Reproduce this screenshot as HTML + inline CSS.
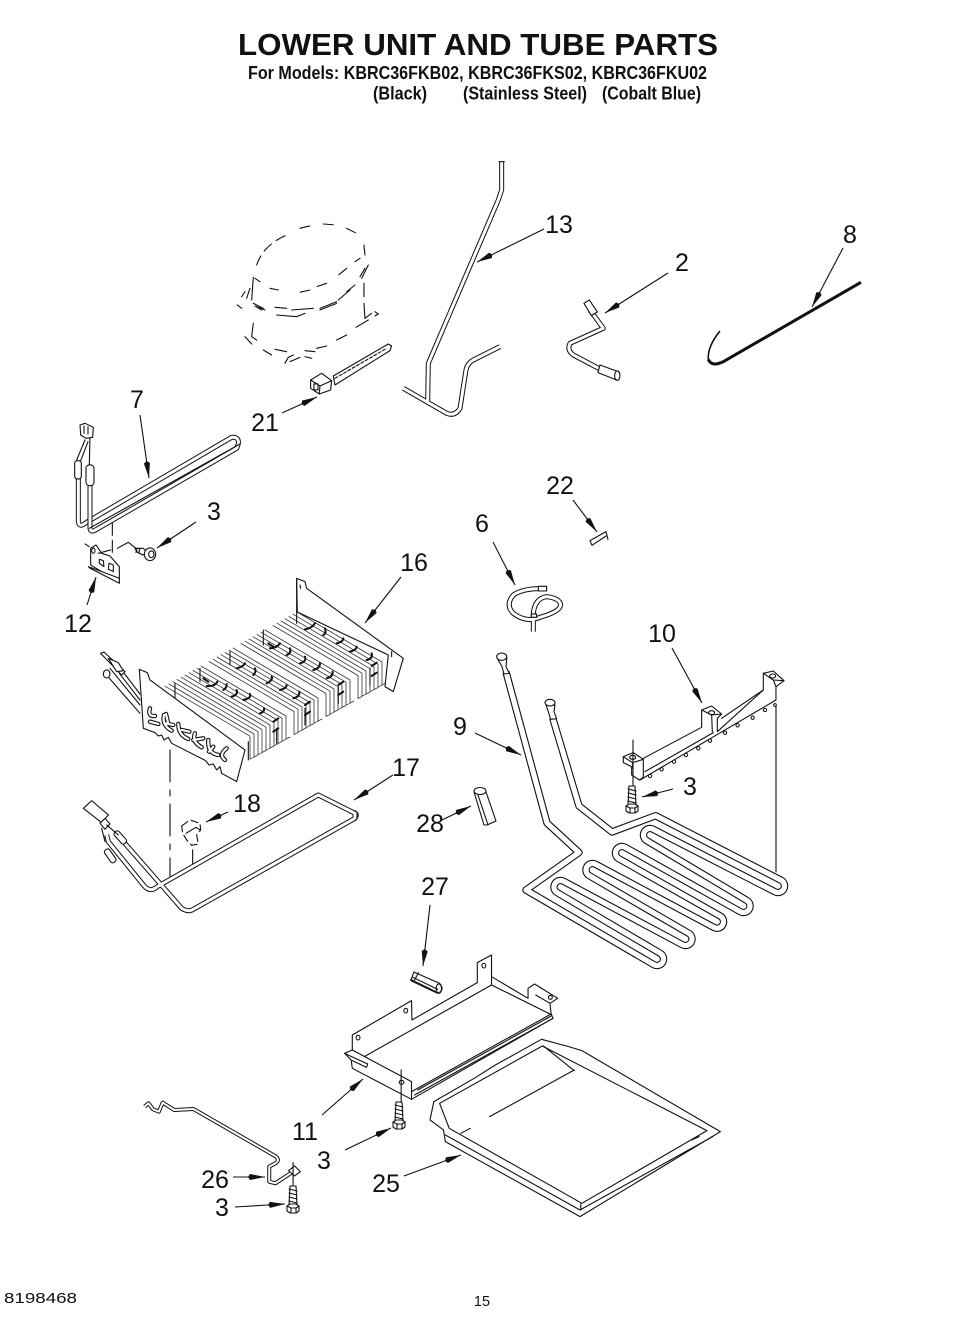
<!DOCTYPE html>
<html><head><meta charset="utf-8"><style>
html,body{margin:0;padding:0;background:#fff}
svg{display:block}
path,line,polyline,polygon,ellipse,circle,rect{vector-effect:non-scaling-stroke}
text{font-family:"Liberation Sans",sans-serif;fill:#111}
.n{font-size:25px;text-anchor:middle}
.b{font-weight:bold}
.l{fill:none;stroke:#111;stroke-width:1.1;stroke-linecap:round;stroke-linejoin:round}
.w{fill:#fff;stroke:#111;stroke-width:1.1;stroke-linejoin:round}
.d{fill:none;stroke:#222;stroke-width:1.1;stroke-dasharray:13 6 3 6}
.tb{fill:none;stroke:#111;stroke-width:5;stroke-linejoin:round;stroke-linecap:butt}
.tw{fill:none;stroke:#fff;stroke-width:3;stroke-linejoin:round;stroke-linecap:butt}
.cb{fill:none;stroke:#111;stroke-width:7.4;stroke-linejoin:round;stroke-linecap:butt}
.cw{fill:none;stroke:#fff;stroke-width:5.2;stroke-linejoin:round;stroke-linecap:butt}
.a{stroke:#111;stroke-width:1.1;fill:none;marker-end:url(#ah)}
.k{fill:none;stroke:#111;stroke-width:2;stroke-linecap:round}
</style></head><body>
<svg width="965" height="1333" viewBox="0 0 965 1333" xmlns="http://www.w3.org/2000/svg">
<defs>
<marker id="ah" markerUnits="userSpaceOnUse" markerWidth="18" markerHeight="8" refX="17" refY="4" orient="auto"><path d="M0,4 L2,1 L17,4 L2,7 Z" fill="#111"/></marker>
<path id="fin" d="M0,0 L85,50 L85,73 L89,71"/>
<g id="screw"><path class="w" d="M-3,-20 L3,-20 L4,-1 L-4,-1 Z"/><path class="l" d="M-4,-17 L4,-15 M-4,-13 L4,-11 M-4,-9 L4,-7 M-4,-5 L4,-3"/><path class="w" d="M-6,0 L-3,-2 L3,-2 L6,0 L6,5 L3,7 L-3,7 L-6,5 Z"/><path class="l" d="M-6,0 L-2,2 L3,2 L6,0 M-2,2 L-2,7 M3,2 L3,7"/></g>
<path id="t7a" d="M55,745 L55,905 Q58,925 78,908 L515,652 Q538,650 535,672"/>
<path id="t7b" d="M90,795 L90,925 Q92,940 110,928 L530,685 L535,672"/>
<path id="t17a" d="M140,885 L145,905 L250,1035 Q270,1060 292,1040 L775,765 L885,820"/>
<path id="t17b" d="M190,905 L365,1105 Q385,1118 400,1108 L885,835 L885,820"/>
<path id="t13a" d="M335,35 L335,120 L325,150 L115,640 L113,755"/>
<path id="t13b" d="M40,715 L170,790 Q195,800 210,775 L228,660 Q232,640 250,630 L330,590"/>
<path id="t2" d="M600,480 L640,535 L540,580 Q530,600 550,615 L635,660"/>
<path id="t26" d="M38,500 L48,490 L60,508 L75,515 L85,488 L115,510 L165,507 L380,650 Q390,662 378,670 L362,680 L362,725 L378,730 L428,692"/>
<path id="coil" d="M552.7,718 L579,806 L612,832 L655.6,815.7 L781.2,880.3 A6.5,6.5 0 0 1 774.8,891.7 L653.2,829.3 A6.5,6.5 0 0 0 646.8,840.7 L746.7,900.3 A6.5,6.5 0 0 1 740.3,911.7 L625.2,847.3 A6.5,6.5 0 0 0 618.8,858.7 L720.2,916 A6.5,6.5 0 0 1 713.8,927.4 L595.7,864.3 A6.5,6.5 0 0 0 589.3,875.7 L688.7,933.3 A6.5,6.5 0 0 1 682.3,944.7 L563.7,881.3 A6.5,6.5 0 0 0 557.3,892.7 L660.2,953.3 A6.5,6.5 0 0 1 653.8,964.7 L526,890 L579,852.5 L547,823 L506,672"/>
</defs>
<rect width="965" height="1333" fill="#fff"/>

<!-- Heading -->
<text class="b" x="238" y="55" font-size="31" textLength="480" lengthAdjust="spacingAndGlyphs">LOWER UNIT AND TUBE PARTS</text>
<text class="b" x="248" y="79" font-size="18.5" textLength="459" lengthAdjust="spacingAndGlyphs">For Models: KBRC36FKB02, KBRC36FKS02, KBRC36FKU02</text>
<text class="b" x="373" y="99.5" font-size="18.5" textLength="54" lengthAdjust="spacingAndGlyphs">(Black)</text>
<text class="b" x="463" y="99.5" font-size="18.5" textLength="124" lengthAdjust="spacingAndGlyphs">(Stainless Steel)</text>
<text class="b" x="602" y="99.5" font-size="18.5" textLength="99" lengthAdjust="spacingAndGlyphs">(Cobalt Blue)</text>

<!-- Compressor and part 21 -->
<g transform="translate(60,220) scale(.3333)">
<path class="l" stroke-dasharray="10 6" d="M590,135 Q610,75 680,45 M720,25 L760,15 M790,12 L830,15 M860,25 L900,45 M912,75 L915,105 L885,125 M860,145 L830,170 M800,190 L770,200 M750,210 L705,220 M655,210 L630,205 M600,185 L585,175"/>
<path class="l" d="M925,135 L905,175 M915,145 L900,170 M885,195 L860,215 M870,210 L835,240 M830,245 L780,265 M760,265 L695,270 M645,262 L680,265 M590,260 L615,270 M650,285 L710,290 L735,280 M780,270 L830,250"/>
<path class="l" d="M555,215 L545,230 M570,205 L560,235 M580,172 L575,240 M532,255 L545,265 M580,250 L610,265 M585,258 L605,270 M912,190 L912,230 M912,250 L915,295 L935,280 M945,275 L955,282 L945,288 M925,300 L888,322"/>
<path class="l" d="M580,310 L575,350 L590,360 M555,350 L575,372 M610,390 L635,405 M645,388 L680,395 M735,392 L765,395 M770,385 L800,378 M830,360 L860,345 M675,430 L685,412 L700,405 M690,425 L720,412 M735,410 L755,415"/>
<path class="w" d="M820,468 L985,372 L995,378 L990,392 L825,495 Z"/>
<path class="l" stroke-dasharray="3 2" d="M825,475 L980,385"/>
<path class="w" stroke-width="1.6" d="M752,480 L785,460 L815,482 L812,510 L778,522 L752,505 Z"/>
<path class="l" d="M752,480 L780,498 L815,482 M780,498 L778,522"/><rect class="w" x="762" y="492" width="12" height="18"/>
</g>

<!-- Part 7, 12 and screw -->
<g transform="translate(60,220) scale(.3333)">
<use href="#t7a" class="tb"/><use href="#t7a" class="tw"/>
<use href="#t7b" class="tb"/><use href="#t7b" class="tw"/>
<path class="l" d="M88,925 L540,672"/>
<rect class="w" x="44" y="722" width="20" height="55" rx="8"/>
<rect class="w" x="78" y="735" width="24" height="62" rx="10"/>
<path class="l" stroke-width="1.6" d="M50,720 L75,660 M88,735 L90,650 M62,722 L84,665"/>
<path class="w" stroke-width="1.8" d="M60,615 L75,610 L100,622 L98,652 L78,655 L62,645 Z"/>
<path class="l" d="M72,618 L72,640 M84,620 L84,642"/>
<line class="l" x1="157" y1="910" x2="157" y2="1010" stroke-dasharray="12 5"/>
<path class="w" stroke-width="1.5" d="M92,1035 L92,985 L108,975 L125,1000 L150,1008 L178,1040 L178,1088 Z"/>
<path class="w" d="M85,1040 L178,1075 L178,1090 L90,1045 Z"/>
<path class="w" d="M118,1030 L118,1018 L130,1022 L132,1040 Z"/><path class="w" d="M145,1048 L147,1030 L160,1035 L160,1055 Z"/>
<ellipse class="l" cx="100" cy="992" rx="5" ry="8"/>
<path class="l" d="M75,972 L88,980 M115,1000 L152,990 M172,985 L205,967 L228,985"/>
<path class="w" stroke-width="1.5" d="M225,985 L250,985 L262,998 L248,1005 L230,995 Z"/>
<path class="l" d="M232,985 L228,998 M240,985 L236,1000"/>
<ellipse class="w" cx="270" cy="1003" rx="17" ry="19" stroke-width="1.8"/><ellipse class="l" cx="274" cy="1003" rx="8" ry="10"/>
</g>

<!-- Tube 13, part 2, wire 8 -->
<g transform="translate(390,150) scale(.3333)">
<use href="#t13a" class="tb"/><use href="#t13b" class="tb"/>
<use href="#t13b" class="tw"/><use href="#t13a" class="tw"/>
<path class="l" d="M327,35 L343,35"/>
<use href="#t2" class="tb"/><use href="#t2" class="tw"/>
<path class="w" stroke-width="1.3" d="M582,460 L598,450 L622,486 L604,497 Z"/>
<path class="w" stroke-width="1.3" d="M630,645 L688,666 L680,690 L624,668 Z"/>
<ellipse class="w" cx="682" cy="677" rx="8" ry="14" stroke-width="1.3"/>
<path fill="none" stroke="#111" stroke-width="3" stroke-linecap="butt" d="M1413,397 L1000,635 Q965,652 955,628"/>
<path fill="none" stroke="#111" stroke-width="1.6" d="M955,628 Q952,590 990,543"/>
</g>

<!-- Evaporator 16 -->
<g transform="translate(60,540) scale(.3333)">
<path class="w" stroke-width="1.2" d="M710,115 L735,125 L740,145 L1030,355 L1000,455 L975,440 L985,345 L710,215 Z"/>
<path class="l" d="M710,120 L712,215 M720,135 L722,145 M995,335 L995,350"/>
</g>
<g class="l" style="stroke-width:.8;stroke:#333">
<use href="#fin" x="297" y="612"/><use href="#fin" x="293" y="614.2"/><use href="#fin" x="289" y="616.5"/><use href="#fin" x="285" y="618.7"/><use href="#fin" x="281" y="621"/><use href="#fin" x="277" y="623.2"/><use href="#fin" x="273" y="625.5"/><use href="#fin" x="265" y="630"/><use href="#fin" x="261" y="632.2"/><use href="#fin" x="257" y="634.5"/><use href="#fin" x="253" y="636.7"/><use href="#fin" x="249" y="639"/><use href="#fin" x="245" y="641.2"/><use href="#fin" x="241" y="643.5"/><use href="#fin" x="233" y="648"/><use href="#fin" x="229" y="650.2"/><use href="#fin" x="225" y="652.5"/><use href="#fin" x="221" y="654.7"/><use href="#fin" x="217" y="657"/><use href="#fin" x="213" y="659.2"/><use href="#fin" x="209" y="661.5"/><use href="#fin" x="201" y="666"/><use href="#fin" x="197" y="668.2"/><use href="#fin" x="193" y="670.5"/><use href="#fin" x="189" y="672.7"/><use href="#fin" x="185" y="675"/><use href="#fin" x="181" y="677.2"/><use href="#fin" x="177" y="679.5"/><use href="#fin" x="173" y="681.7"/><use href="#fin" x="169" y="684"/><use href="#fin" x="165" y="686.2"/>
</g>
<g transform="translate(60,540) scale(.3333)">
<path class="l" d="M345,430 L345,475 M420,385 L420,425 M510,335 L510,375 M610,270 L610,315 M710,215 L710,250"/>
<path class="l" d="M565,660 L565,605 M650,610 L650,565 M735,555 L735,505 M835,490 L835,440 M930,435 L930,385"/>
<g class="k">
<path d="M430,415 L445,425 M440,438 Q465,440 472,425 M490,450 Q500,445 500,432 M515,470 Q535,465 530,450 M550,480 Q575,475 570,462 M600,520 Q615,515 612,505 M640,545 L655,535 M640,575 L655,565"/>
<path d="M530,385 Q550,380 555,370 M580,405 Q590,395 585,385 M620,430 Q640,420 635,410 M660,450 Q680,445 680,435 M700,475 Q720,470 718,455 M735,495 L750,485 M735,525 L750,515"/>
<path d="M625,310 L640,320 M630,325 Q650,325 660,310 M680,345 Q695,340 690,325 M720,370 Q740,365 735,350 M760,390 Q780,385 780,370 M800,415 Q820,410 818,395 M835,435 L850,425 M835,465 L850,455"/>
<path d="M735,268 Q755,265 765,250 M790,285 Q800,280 795,265 M830,310 Q850,305 850,295 M870,335 Q890,330 890,320 M920,360 Q940,355 935,340 M935,378 L950,368 M935,408 L950,398"/>
</g>
<path class="l" stroke-width="1.6" d="M185,390 L240,462 M178,400 L240,480 M150,385 L240,495 M135,400 L240,520"/>
<path class="w" d="M122,340 L132,336 L195,395 L185,405 Z"/><path class="w" d="M145,355 L175,368 L190,392 L170,395 Z"/>
<ellipse class="w" cx="140" cy="402" rx="10" ry="12"/>
<path class="w" stroke-width="1.3" d="M238,388 L262,398 L270,420 L555,630 L530,725 L485,700 L480,680 L470,690 L460,672 L447,675 L437,662 L335,610 L325,592 L312,600 L305,585 L295,588 L285,578 L250,565 Z"/>
<path fill="none" stroke="#111" stroke-width="4.4" stroke-linecap="round" d="M270,505 Q262,530 285,528 M270,545 L295,552 M312,525 Q305,555 335,572 M318,522 L325,552 M315,550 L340,555 M355,552 Q355,585 385,597 M365,570 L388,575 M405,580 Q395,605 425,622 M400,600 L430,595 M445,600 Q442,640 475,645 M447,635 L460,620 M500,625 Q475,645 495,660"/>
<path fill="none" stroke="#fff" stroke-width="2.2" stroke-linecap="round" d="M270,505 Q262,530 285,528 M270,545 L295,552 M312,525 Q305,555 335,572 M318,522 L325,552 M315,550 L340,555 M355,552 Q355,585 385,597 M365,570 L388,575 M405,580 Q395,605 425,622 M400,600 L430,595 M445,600 Q442,640 475,645 M447,635 L460,620 M500,625 Q475,645 495,660"/>
<line class="l" x1="330" y1="630" x2="330" y2="1012" stroke-dasharray="32 8 6 8"/>
<!-- tube 17 -->
<use href="#t17a" class="tb"/><use href="#t17b" class="tb"/>
<use href="#t17a" class="tw"/><use href="#t17b" class="tw"/>
<path class="l" d="M885,812 Q905,825 885,842"/>
<path class="w" stroke-width="1.6" d="M70,805 L95,782 L145,825 L125,848 Z"/>
<path class="w" d="M120,850 L135,835 L150,852 L135,868 Z"/>
<rect class="w" x="170" y="870" width="18" height="45" rx="7" transform="rotate(-42 180 890)"/>
<rect class="w" x="140" y="925" width="18" height="45" rx="7" transform="rotate(-35 150 945)"/>
<path class="l" d="M125,865 L135,905 M140,855 L175,885"/>
<path class="w" stroke-width="1.2" stroke-dasharray="8 3" d="M365,858 L390,840 L420,850 L422,870 L410,885 L415,912 L395,916 L380,900 L368,880 Z"/>
<path class="l" d="M378,880 L408,862 L420,870 M398,930 L398,972"/>
</g>

<!-- Part 6 and 22 -->
<g transform="translate(470,470) scale(.3333)">
<path fill="none" stroke="#111" stroke-width="5" d="M215,356 Q160,355 130,375 Q105,405 130,430 Q170,460 210,442 Q270,425 272,405 Q270,385 230,380 Q195,385 190,430 L190,485"/>
<path fill="none" stroke="#fff" stroke-width="3" d="M215,356 Q160,355 130,375 Q105,405 130,430 Q170,460 210,442 Q270,425 272,405 Q270,385 230,380 Q195,385 190,430 L190,485"/>
<rect class="w" x="205" y="349" width="25" height="14"/>
<rect class="w" x="184" y="432" width="16" height="10"/>
<path class="l" d="M360,212 L408,185 L414,208 M360,212 L366,226 L408,198"/>
</g>

<!-- Part 10 and 9 -->
<line class="l" x1="776" y1="705" x2="776" y2="872" stroke-width="1.4"/>
<use href="#coil" class="cb"/><use href="#coil" class="cw"/>
<g transform="translate(480,640) scale(.3333)">
<path class="w" stroke-width="1.4" d="M490,355 L665,262 L665,210 L695,198 L725,222 L712,235 L712,275 L850,150 L850,100 L880,93 L912,122 L888,140 L888,180 L480,420 L478,390 Z"/>
<path class="l" d="M495,395 L700,278 M725,235 L850,150 M665,210 L695,225 L725,222 M695,225 L697,275 M850,100 L880,120 L912,122 M880,120 L888,140"/>
<ellipse class="l" cx="695" cy="218" rx="9" ry="6"/><ellipse class="l" cx="878" cy="108" rx="9" ry="6"/>
<path class="w" stroke-width="1.4" d="M430,350 L460,338 L490,358 L490,412 L478,420 L455,405 L455,380 L430,368 Z"/>
<path class="l" d="M430,350 L458,368 L490,358 M458,368 L458,385"/><ellipse class="l" cx="458" cy="352" rx="9" ry="6"/>
<g fill="#fff" stroke="#111" stroke-width="1"><circle cx="510" cy="408" r="5"/><circle cx="545" cy="388" r="5"/><circle cx="582" cy="365" r="5"/><circle cx="618" cy="345" r="5"/><circle cx="655" cy="325" r="5"/><circle cx="690" cy="302" r="5"/><circle cx="735" cy="278" r="5"/><circle cx="773" cy="256" r="5"/><circle cx="818" cy="233" r="5"/><circle cx="855" cy="210" r="5"/><circle cx="885" cy="195" r="4"/></g>
<line class="l" x1="459" y1="300" x2="459" y2="460"/>
<!-- caps -->
<path class="w" stroke-width="1.3" d="M52,55 Q55,40 68,40 Q82,42 80,58 L78,80 L88,100 L72,102 L66,80 Z"/>
<ellipse class="w" cx="65" cy="50" rx="15" ry="11" stroke-width="1.3"/>
<path class="w" stroke-width="1.3" d="M198,195 L225,195 L222,215 L230,236 L212,238 L205,215 Z"/>
<ellipse class="w" cx="210" cy="188" rx="15" ry="10" stroke-width="1.3"/>
</g>
<use href="#screw" x="632" y="806"/>

<!-- Part 28 -->
<path class="w" stroke-width="1.4" d="M474,792 L485,789 L496,821 L487,825 L484,825 Z"/>
<ellipse class="w" cx="480" cy="791" rx="6" ry="3.5" stroke-width="1.4"/>
<path class="l" d="M478,795 L488,825"/>

<!-- Bottom pan, tray, heater -->
<g transform="translate(130,940) scale(.3846,.3333)">
<!-- 27 -->
<path class="w" stroke-width="1.4" d="M738,96 L805,130 Q820,150 800,160 L730,122 Z"/>
<path class="l" d="M730,118 L795,155 M736,112 L800,148 M750,98 L740,120"/>
<ellipse class="l" cx="803" cy="146" rx="7" ry="14"/>
<!-- 11 -->
<path class="w" stroke-width="1.3" d="M578,285 L732,182 L733,240 L903,128 L903,68 L940,45 L940,110 L1035,175 L1035,145 L1052,132 L1112,175 L1092,190 L1095,222 L1100,235 L732,478 L578,385 L575,360 L558,340 L578,330 Z"/>
<path class="l" d="M612,348 L940,135 L1092,222 M940,110 L940,135 M578,330 L732,425 L732,478 M558,340 L618,372 L615,382 L578,362 M732,455 L1095,222 M740,465 L1100,235 M748,450 L1095,228"/>
<path class="l" d="M1055,165 L1092,190"/><ellipse class="l" cx="1093" cy="172" rx="5" ry="6"/>
<ellipse class="l" cx="593" cy="293" rx="5" ry="7"/><ellipse class="l" cx="717" cy="212" rx="5" ry="7"/><ellipse class="l" cx="920" cy="77" rx="5" ry="7"/><ellipse class="l" cx="706" cy="427" rx="6" ry="6"/>
<line class="l" x1="705" y1="390" x2="705" y2="510"/>
<!-- 25 -->
<path class="l" stroke-width="1.3" d="M1070,298 L1135,318 L1175,332 L1535,575 L1170,830 L820,605 L815,570 L780,540 L790,485 L895,415 L950,375 Z"/>
<path class="l" d="M805,490 L1072,318 L1500,572 L1175,790 L830,565 Z"/>
<path class="l" d="M820,585 L1170,810 L1515,590 M1075,318 L1155,392 M935,530 L1155,390 M860,580 L885,565 M1172,792 L1172,810 M1460,600 L1480,590"/>
<!-- 26 -->
<use href="#t26" class="tb" style="stroke-width:4"/><use href="#t26" class="tw" style="stroke-width:2"/>
<path class="w" d="M412,692 L428,678 L443,695 L428,708 Z"/>
<line class="l" x1="424" y1="668" x2="424" y2="755"/>
</g>
<use href="#screw" x="399" y="1122"/>
<use href="#screw" x="293" y="1206"/>

<!-- Arrows -->
<line class="a" x1="544" y1="229" x2="477" y2="262"/>
<line class="a" x1="668" y1="273" x2="605" y2="313"/>
<line class="a" x1="843" y1="248" x2="812" y2="307"/>
<line class="a" x1="140" y1="415" x2="149" y2="478"/>
<line class="a" x1="282" y1="413" x2="317" y2="397"/>
<line class="a" x1="196" y1="522" x2="157" y2="548"/>
<line class="a" x1="87" y1="605" x2="96" y2="577"/>
<line class="a" x1="401" y1="577" x2="365" y2="623"/>
<line class="a" x1="393" y1="775" x2="354" y2="800"/>
<line class="a" x1="228" y1="812" x2="206" y2="822"/>
<line class="a" x1="475" y1="733" x2="521" y2="755"/>
<line class="a" x1="672" y1="648" x2="702" y2="703"/>
<line class="a" x1="673" y1="789" x2="642" y2="797"/>
<line class="a" x1="573" y1="500" x2="597" y2="532"/>
<line class="a" x1="493" y1="542" x2="515" y2="585"/>
<line class="a" x1="442" y1="820" x2="471" y2="806"/>
<line class="a" x1="430" y1="905" x2="423" y2="966"/>
<line class="a" x1="322" y1="1115" x2="363" y2="1079"/>
<line class="a" x1="345" y1="1150" x2="391" y2="1128"/>
<line class="a" x1="404" y1="1176" x2="461" y2="1155"/>
<line class="a" x1="233" y1="1177" x2="265" y2="1177"/>
<line class="a" x1="235" y1="1207" x2="285" y2="1204"/>

<!-- Labels -->
<text class="n" x="559" y="233">13</text>
<text class="n" x="682" y="271">2</text>
<text class="n" x="850" y="243">8</text>
<text class="n" x="137" y="408">7</text>
<text class="n" x="265" y="431">21</text>
<text class="n" x="214" y="520">3</text>
<text class="n" x="560" y="494">22</text>
<text class="n" x="482" y="532">6</text>
<text class="n" x="414" y="571">16</text>
<text class="n" x="78" y="632">12</text>
<text class="n" x="662" y="642">10</text>
<text class="n" x="460" y="735">9</text>
<text class="n" x="690" y="795">3</text>
<text class="n" x="406" y="776">17</text>
<text class="n" x="247" y="812">18</text>
<text class="n" x="430" y="832">28</text>
<text class="n" x="435" y="895">27</text>
<text class="n" x="305" y="1140">11</text>
<text class="n" x="324" y="1169">3</text>
<text class="n" x="215" y="1188">26</text>
<text class="n" x="222" y="1216">3</text>
<text class="n" x="386" y="1192">25</text>
<text x="4" y="1303" font-size="15" textLength="73" lengthAdjust="spacingAndGlyphs">8198468</text>
<text x="482" y="1306" font-size="14.5" text-anchor="middle">15</text>
</svg>
</body></html>
